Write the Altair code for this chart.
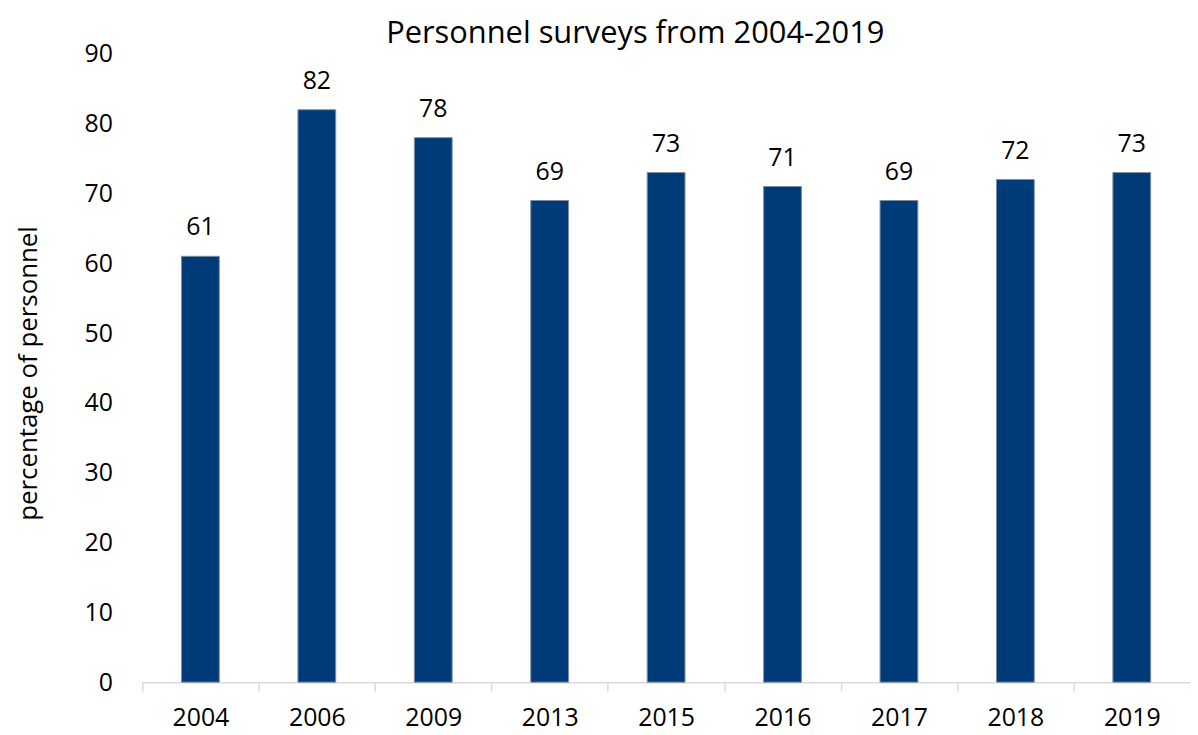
import altair as alt
import pandas as pd

years = ["2004", "2006", "2009", "2013", "2015", "2016", "2017", "2018", "2019"]
values = [61, 82, 78, 69, 73, 71, 69, 72, 73]

df = pd.DataFrame({"year": years, "value": values})

FONT = "Open Sans"
FS = 25

x = alt.X("year:N", sort=years, title=None,
          scale=alt.Scale(paddingInner=0, paddingOuter=0),
          axis=alt.Axis(labelAngle=0, labelFontSize=FS, labelFont=FONT, labelColor="#000000",
                        domainColor="#d9d9d9", domainWidth=1.5, tickColor="#d9d9d9", tickWidth=1.5,
                        tickSize=9, tickBand="extent", labelPadding=15))
y = alt.Y("value:Q", title="percentage of personnel",
          scale=alt.Scale(domain=[0, 90], nice=False),
          axis=alt.Axis(values=list(range(0, 91, 10)), grid=False, domain=False, ticks=False,
                        labelFontSize=FS, labelFont=FONT, labelColor="#000000", labelPadding=30,
                        titleFontSize=26, titleFont=FONT, titleFontWeight="normal", titleColor="#000000",
                        titleX=-114, titleY=321, titleAngle=-90, titleAlign="center", titleBaseline="middle"))

bars = alt.Chart(df).mark_bar(size=38, color="#003b79", stroke="#7f8ca0", strokeWidth=1).encode(x=x, y=y)
labels = alt.Chart(df).mark_text(fontSize=FS, font=FONT, color="#000000", baseline="alphabetic", dy=-21).encode(
    x=alt.X("year:N", sort=years), y=alt.Y("value:Q"), text="value:Q")

chart = (bars + labels).properties(
    width=1054, height=632,
    title=alt.TitleParams("Personnel surveys from 2004-2019", fontSize=31, font=FONT,
                          fontWeight="normal", color="#000000", anchor="middle", dx=-31, offset=-8),
    autosize=alt.AutoSizeParams(type="none"),
    padding={"left": 135, "top": 44, "right": 0, "bottom": 50},
).configure_view(stroke=None)

chart.save("out.html", embed_options={"renderer": "svg", "actions": False})
